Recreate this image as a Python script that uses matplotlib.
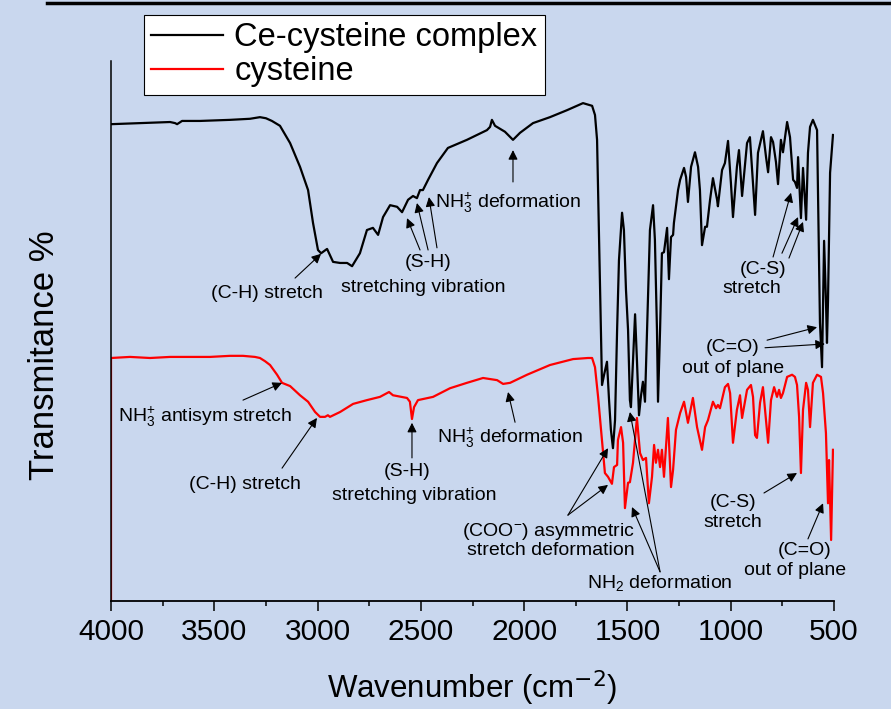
import numpy as np
import matplotlib
matplotlib.use("Agg")
import matplotlib.pyplot as plt
from matplotlib.lines import Line2D

plt.rcParams['font.family'] = ['Liberation Sans', 'DejaVu Sans']
plt.rcParams['mathtext.fontset'] = 'custom'
plt.rcParams['mathtext.rm'] = 'Liberation Sans'
plt.rcParams['mathtext.it'] = 'Liberation Sans:italic'
plt.rcParams['mathtext.bf'] = 'Liberation Sans:bold'

# ---- data (wavenumber cm-1, transmittance %) ----
complex_wn = [4000, 3860, 3714, 3690, 3680, 3656, 3569, 3424, 3327, 3279, 3250, 3221, 3182, 3133, 3085,
              3046, 3022, 2998, 2983, 2954, 2925, 2891, 2857, 2833, 2795, 2761, 2732, 2707, 2683, 2649,
              2615, 2591, 2562, 2538, 2519, 2504, 2490, 2465, 2422, 2369, 2277, 2180, 2165, 2156, 2141,
              2093, 2054, 2020, 1957, 1875, 1792, 1715, 1671, 1657, 1647, 1642, 1633, 1628, 1623, 1613,
              1599, 1589, 1580, 1570, 1560, 1550, 1541, 1526, 1517, 1507, 1497, 1488, 1483, 1473, 1463,
              1454, 1444, 1434, 1425, 1415, 1405, 1391, 1376, 1367, 1357, 1352, 1342, 1333, 1323, 1308,
              1299, 1289, 1279, 1275, 1255, 1245, 1226, 1216, 1207, 1192, 1173, 1158, 1149, 1139, 1124,
              1115, 1100, 1086, 1066, 1062, 1042, 1028, 1013, 999, 989, 970, 960, 945, 921, 907,
              892, 882, 868, 844, 829, 819, 805, 795, 781, 771, 757, 747, 727, 713, 698,
              689, 679, 674, 660, 650, 635, 626, 616, 602, 582, 573, 568, 558, 548, 539,
              534, 529, 519, 505]
complex_t = [88.3, 88.5, 88.7, 88.5, 88.3, 88.9, 88.9, 89.1, 89.3, 89.6, 89.4, 88.9, 88.0, 84.8, 80.4,
             76.1, 70.0, 65.0, 64.4, 65.2, 62.8, 62.6, 62.6, 62.0, 64.4, 68.7, 69.1, 67.8, 71.1, 73.3,
             73.0, 72.0, 74.3, 75.0, 74.6, 76.1, 76.1, 78.0, 81.1, 83.9, 85.4, 87.2, 87.8, 89.1, 88.0,
             86.9, 85.4, 86.7, 88.5, 89.6, 90.9, 92.2, 91.7, 90.0, 85.4, 76.1, 59.4, 50.2, 40.0, 41.9,
             44.3, 37.2, 31.7, 28.3, 33.5, 50.2, 63.1, 71.9, 68.7, 57.6, 50.2, 37.2, 35.9, 44.6, 53.1,
             44.6, 34.4, 38.1, 40.6, 36.9, 50.2, 68.7, 73.3, 66.9, 50.2, 36.9, 50.2, 64.4, 64.6, 69.1,
             59.6, 67.4, 67.8, 70.0, 76.1, 78.0, 80.2, 78.5, 73.9, 80.4, 83.1, 80.4, 76.1, 65.9, 69.3,
             69.3, 74.3, 78.3, 74.3, 73.1, 79.8, 81.1, 85.2, 77.4, 71.1, 80.4, 83.5, 75.0, 84.8, 85.9,
             77.4, 71.5, 83.0, 87.0, 82.2, 79.4, 85.9, 85.0, 81.3, 77.2, 85.4, 83.1, 88.7, 85.9, 78.0,
             77.6, 76.5, 82.2, 70.9, 80.2, 70.6, 83.0, 87.8, 89.1, 87.2, 65.0, 51.5, 43.3, 66.7, 55.7,
             47.8, 55.7, 79.3, 86.3]

cys_wn = [4000, 4000, 3908, 3811, 3714, 3618, 3521, 3424, 3361, 3303, 3279, 3254, 3230, 3196, 3172,
          3133, 3085, 3046, 3012, 2988, 2964, 2950, 2940, 2891, 2828, 2761, 2698, 2664, 2654, 2635,
          2567, 2553, 2543, 2533, 2514, 2441, 2359, 2277, 2199, 2165, 2131, 2102, 2068, 1986, 1875,
          1763, 1691, 1671, 1657, 1642, 1623, 1609, 1594, 1575, 1565, 1550, 1546, 1531, 1521, 1512,
          1497, 1488, 1473, 1454, 1439, 1425, 1410, 1396, 1381, 1371, 1362, 1352, 1342, 1333, 1323,
          1304, 1289, 1279, 1265, 1245, 1226, 1207, 1183, 1163, 1139, 1124, 1110, 1086, 1071, 1062,
          1052, 1028, 1013, 1003, 989, 970, 955, 945, 921, 902, 892, 882, 873, 858, 844,
          829, 819, 805, 790, 776, 766, 757, 747, 727, 703, 689, 679, 669, 660, 650,
          635, 626, 616, 602, 582, 563, 553, 539, 529, 524, 514, 505]
cys_t = [0.0, 45.0, 45.2, 45.0, 45.2, 45.2, 45.2, 45.4, 45.4, 45.2, 45.0, 44.4, 43.7, 41.9, 40.4,
         39.8, 38.1, 36.9, 35.0, 34.1, 34.1, 34.4, 34.1, 35.0, 36.5, 37.2, 37.8, 38.5, 38.7, 38.1,
         37.6, 36.9, 33.7, 35.9, 37.2, 37.8, 39.4, 40.4, 41.3, 41.1, 40.9, 40.2, 40.4, 41.9, 43.7,
         44.8, 45.0, 45.0, 43.3, 37.8, 29.8, 23.7, 23.0, 21.7, 24.8, 25.2, 29.8, 32.2, 29.3, 17.2,
         21.9, 22.0, 25.6, 33.9, 27.4, 26.1, 26.5, 18.1, 23.0, 28.9, 25.6, 28.0, 24.8, 28.0, 23.0,
         33.9, 21.1, 24.3, 31.7, 34.8, 36.9, 33.0, 37.6, 32.2, 28.0, 32.2, 33.5, 36.9, 35.7, 36.3,
         35.7, 39.6, 40.2, 38.5, 29.3, 35.4, 38.1, 33.9, 39.1, 40.0, 37.8, 30.7, 30.2, 36.7, 39.6,
         33.5, 29.3, 37.2, 39.6, 37.8, 39.1, 37.6, 38.5, 41.5, 41.9, 41.5, 40.0, 34.1, 23.7, 35.4,
         40.4, 39.1, 32.2, 40.4, 41.9, 41.5, 38.5, 31.1, 18.1, 26.1, 11.3, 28.0]

xticks = [4000, 3500, 3000, 2500, 2000, 1500, 1000, 500]

# ---- figure ----
bg = '#c9d7ee'
fig = plt.figure(figsize=(8.91, 7.09), dpi=100, facecolor=bg)
ax = fig.add_axes([111 / 891, 108 / 709, 723 / 891, 540 / 709], facecolor=bg)

l1, = ax.plot(complex_wn, complex_t, color='black', lw=1.6, label='Ce-cysteine complex')
l2, = ax.plot(cys_wn, cys_t, color='red', lw=1.6, label='cysteine')

ax.set_xlim(4000, 500)
ax.set_ylim(0, 100)
ax.set_xticks(xticks)
ax.set_xticks(np.arange(3750, 500, -500), minor=True)
ax.set_yticks([])
ax.tick_params(axis='x', which='major', direction='out', length=7, width=1.1,
               labelsize=21.5, pad=5)
ax.tick_params(axis='x', which='minor', direction='out', length=3.5, width=1.1)
for s in ['top', 'right']:
    ax.spines[s].set_visible(False)
ax.spines['bottom'].set_linewidth(1.3)
ax.spines['left'].set_linewidth(1.1)

fig.text(472 / 891, 1 - 688 / 709, 'Wavenumber (cm$^{\\mathsf{-2}}$)', ha='center', va='center', fontsize=22.5)
fig.text(45 / 891, 1 - 355 / 709, 'Transmitance %', rotation=90, ha='center', va='center', fontsize=25)

leg = ax.legend(loc='upper left', bbox_to_anchor=(144 / 891, 1 - 15 / 709),
                bbox_transform=fig.transFigure, fontsize=23.5, frameon=True, fancybox=False,
                edgecolor='black', framealpha=1, borderpad=0.22, labelspacing=0.1,
                handlelength=2.2, handletextpad=0.35, borderaxespad=0)
leg.get_frame().set_linewidth(0.8)

# top border line
fig.add_artist(Line2D([47 / 891, 1], [1 - 3 / 709, 1 - 3 / 709], color='black', lw=2.5))

# ---- annotations ----
fs = 14
arw = dict(arrowstyle='-|>', color='black', lw=0.8, mutation_scale=14, shrinkA=0, shrinkB=0)
nh3 = 'NH$_3^{{+}}$'


def arrow(tail, tip):
    ax.annotate('', xy=tip, xytext=tail, arrowprops=arw)


# Ce-cysteine complex
ax.text(3245, 57.0, '(C-H) stretch', fontsize=fs, ha='center', va='center')
arrow((3109, 59.8), (2983, 64.3))
ax.text(2465, 62.6, '(S-H)', fontsize=fs, ha='center', va='center')
ax.text(2490, 58.1, 'stretching vibration', fontsize=fs, ha='center', va='center')
arrow((2504, 65.0), (2567, 70.9))
arrow((2465, 65.0), (2519, 73.7))
arrow((2422, 65.4), (2461, 74.8))
ax.text(2431, 73.7, nh3 + ' deformation', fontsize=fs, ha='left', va='center')
arrow((2054, 77.6), (2054, 83.5))
ax.text(844, 61.3, '(C-S)', fontsize=fs, ha='center', va='center')
ax.text(897, 57.8, 'stretch', fontsize=fs, ha='center', va='center')
arrow((795, 63.7), (708, 75.6))
arrow((752, 64.4), (674, 71.1))
arrow((718, 63.5), (650, 70.2))
ax.text(989, 47.0, '(C=O)', fontsize=fs, ha='center', va='center')
ax.text(989, 43.1, 'out of plane', fontsize=fs, ha='center', va='center')
arrow((824, 48.3), (582, 50.7))
arrow((834, 46.9), (544, 47.6))

# cysteine
ax.text(3966, 34.1, nh3 + ' antisym stretch', fontsize=fs, ha='left', va='center')
arrow((3361, 37.2), (3172, 40.4))
ax.text(3351, 21.5, '(C-H) stretch', fontsize=fs, ha='center', va='center')
arrow((3172, 24.6), (3003, 33.9))
ax.text(2567, 23.9, '(S-H)', fontsize=fs, ha='center', va='center')
ax.text(2533, 19.6, 'stretching vibration', fontsize=fs, ha='center', va='center')
arrow((2543, 26.5), (2543, 33.0))
ax.text(2422, 30.2, nh3 + ' deformation', fontsize=fs, ha='left', va='center')
arrow((2044, 33.1), (2078, 38.7))
ax.text(1884, 12.8, '(COO$^{{-}}$) asymmetric', fontsize=fs, ha='center', va='center')
ax.text(1870, 9.3, 'stretch deformation', fontsize=fs, ha='center', va='center')
arrow((1788, 15.9), (1594, 28.3))
arrow((1788, 15.9), (1594, 21.5))
ax.text(1342, 3.3, 'NH$_2$ deformation', fontsize=fs, ha='center', va='center')
arrow((1342, 5.4), (1488, 35.0))
arrow((1342, 5.4), (1478, 17.4))
ax.text(989, 18.3, '(C-S)', fontsize=fs, ha='center', va='center')
ax.text(989, 14.6, 'stretch', fontsize=fs, ha='center', va='center')
arrow((839, 20.0), (679, 23.7))
ax.text(640, 9.4, '(C=O)', fontsize=fs, ha='center', va='center')
ax.text(689, 5.7, 'out of plane', fontsize=fs, ha='center', va='center')
arrow((626, 11.5), (553, 18.1))

fig.savefig('out.png', dpi=100, facecolor=bg)
